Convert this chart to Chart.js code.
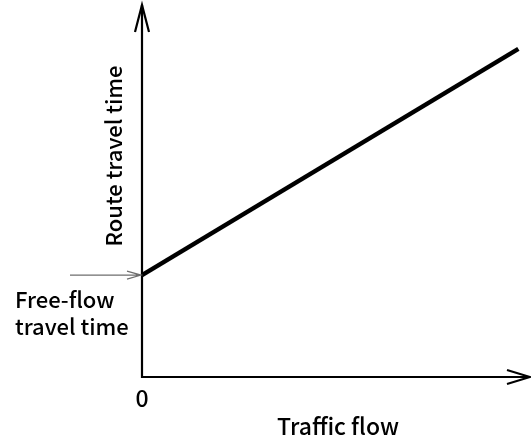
<!DOCTYPE html>
<html>
<head>
<meta charset="utf-8">
<script src="https://cdn.jsdelivr.net/npm/chart.js@4/dist/chart.umd.min.js"></script>
<style>
  html, body { margin: 0; padding: 0; background: #fff; }
  #wrap { width: 531px; height: 441px; position: relative; }
</style>
</head>
<body>
<div id="wrap"><canvas id="cost-chart"></canvas></div>
<script>
// 交通量と所要時間（リンクコスト関数）
const flows = [0, 0.97];
const travelTimes = [0.274, 0.882];
const xLabel = "Traffic flow";
const yLabel = "Route travel time";
const freeFlowLabel = ["Free-flow", "travel time"];
const originLabel = "0";

const FONT = '"Noto Sans CJK JP", "DejaVu Sans", sans-serif';

// 矢印つきの軸とラベルを描く
const axesPlugin = {
  id: 'arrowAxes',
  afterDraw(chart) {
    const ctx = chart.ctx;
    const xs = chart.scales.x, ys = chart.scales.y;
    const x0 = xs.getPixelForValue(0), y0 = ys.getPixelForValue(0);
    const xEnd = xs.getPixelForValue(xs.max), yEnd = ys.getPixelForValue(ys.max);

    ctx.save();
    ctx.strokeStyle = '#000';
    ctx.lineWidth = 2.2;
    ctx.lineCap = 'butt';
    ctx.beginPath();
    ctx.moveTo(x0, yEnd);
    ctx.lineTo(x0, y0);
    ctx.lineTo(xEnd, y0);
    ctx.stroke();

    // 矢じり
    ctx.beginPath();
    ctx.moveTo(x0 - 7, yEnd + 27);
    ctx.lineTo(x0, yEnd);
    ctx.lineTo(x0 + 7, yEnd + 27);
    ctx.moveTo(xEnd - 23, y0 - 7);
    ctx.lineTo(xEnd, y0);
    ctx.lineTo(xEnd - 23, y0 + 7);
    ctx.stroke();

    // 自由走行時間を指す矢印
    const yf = ys.getPixelForValue(travelTimes[0]);
    ctx.strokeStyle = '#6e6e6e';
    ctx.lineWidth = 1.2;
    ctx.beginPath();
    ctx.moveTo(70, yf);
    ctx.lineTo(x0 - 1, yf);
    ctx.moveTo(x0 - 15, yf - 4);
    ctx.lineTo(x0 - 1, yf);
    ctx.lineTo(x0 - 15, yf + 4);
    ctx.stroke();

    ctx.fillStyle = '#000';
    ctx.font = '500 22px ' + FONT;
    ctx.textBaseline = 'alphabetic';
    ctx.textAlign = 'left';
    ctx.fillText(freeFlowLabel[0], 15, yf + 33);
    ctx.fillText(freeFlowLabel[1], 15, yf + 60);

    ctx.textAlign = 'center';
    ctx.font = '500 23px ' + FONT;
    ctx.fillText(originLabel, x0, y0 + 30);
    ctx.fillText(xLabel, 338, 435);

    ctx.font = '500 22px ' + FONT;
    ctx.translate(122, 156);
    ctx.rotate(-Math.PI / 2);
    ctx.fillText(yLabel, 0, 0);
    ctx.restore();
  }
};

const ctx = document.getElementById('cost-chart').getContext('2d');
new Chart(ctx, {
  type: 'line',
  data: {
    datasets: [{
      data: flows.map((f, i) => ({ x: f, y: travelTimes[i] })),
      borderColor: '#000',
      borderWidth: 4.5,
      pointRadius: 0,
      tension: 0,
      clip: false
    }]
  },
  options: {
    responsive: true,
    maintainAspectRatio: false,
    animation: false,
    layout: { padding: { left: 142, right: 1, top: 5, bottom: 64 } },
    plugins: { legend: { display: false }, tooltip: { enabled: false } },
    scales: {
      x: { type: 'linear', min: 0, max: 1, display: false },
      y: { type: 'linear', min: 0, max: 1, display: false }
    }
  },
  plugins: [axesPlugin]
});
</script>
</body>
</html>
